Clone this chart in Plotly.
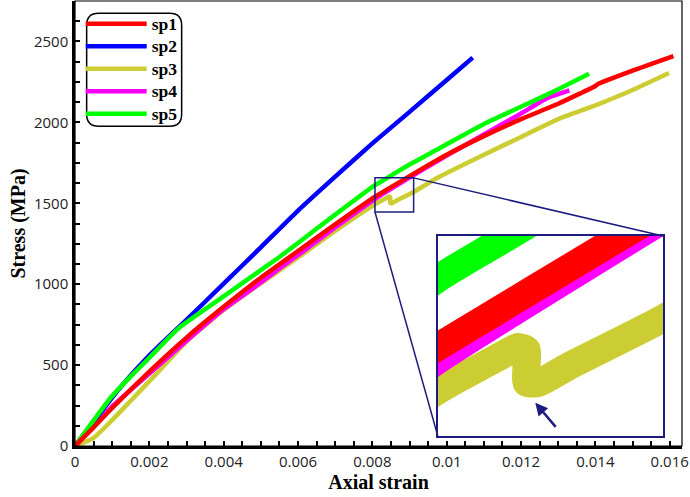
import plotly.graph_objects as go

# ---------------- data ----------------
sp1_x = [0, 0.0005, 0.001, 0.002, 0.003, 0.004, 0.005, 0.006, 0.007, 0.008, 0.00807, 0.00892,
         0.0095, 0.010, 0.011, 0.012, 0.013, 0.0140, 0.01408, 0.015, 0.0161]
sp1_y = [0, 115, 235, 460, 670, 860, 1040, 1205, 1370, 1530, 1540, 1657,
         1735, 1800, 1915, 2020, 2115, 2225, 2238, 2320, 2410]

sp2_x = [0, 0.0005, 0.00116, 0.002, 0.003, 0.004, 0.005, 0.006, 0.007, 0.008, 0.009, 0.010, 0.0107]
sp2_y = [0, 150, 346, 560, 780, 1003, 1228, 1455, 1665, 1870, 2065, 2262, 2400]

sp3_x = [0, 0.0005, 0.001, 0.0015, 0.00214, 0.003, 0.004, 0.005, 0.006, 0.007, 0.00807, 0.008365,
         0.00844, 0.00848, 0.00848, 0.008535, 0.00867,
         0.00911, 0.00979, 0.011, 0.012, 0.013, 0.014, 0.015, 0.01598]
sp3_y = [0, 50, 160, 280, 434, 645, 840, 1005, 1165, 1330, 1494, 1531,
         1540, 1537, 1502, 1502, 1519,
         1570, 1662, 1800, 1910, 2020, 2105, 2200, 2305]

sp4_x = [0, 0.0005, 0.001, 0.00214, 0.003, 0.004, 0.005, 0.0055, 0.006, 0.007, 0.00807, 0.00911,
         0.010, 0.011, 0.012, 0.0127, 0.0133]
sp4_y = [0, 125, 245, 475, 650, 845, 1010, 1097, 1180, 1350, 1526, 1674,
         1795, 1925, 2055, 2150, 2198]

sp5_x = [0, 0.00098, 0.0015, 0.002, 0.0028, 0.004, 0.005, 0.0055, 0.006, 0.007, 0.00807, 0.0084,
         0.009, 0.00979, 0.011, 0.0125, 0.013, 0.01383]
sp5_y = [0, 304, 430, 545, 730, 925, 1087, 1168, 1255, 1430, 1612, 1657,
         1740, 1838, 1990, 2150, 2205, 2300]

series_names = ["sp1", "sp2", "sp3", "sp4", "sp5"]
series_colors = ["#ff0000", "#0000ff", "#cccc33", "#ff00ff", "#00ff00"]
series_x = [sp1_x, sp2_x, sp3_x, sp4_x, sp5_x]
series_y = [sp1_y, sp2_y, sp3_y, sp4_y, sp5_y]
draw_order = [2, 3, 1, 4, 0]   # yellow, magenta, blue, green, red on top

x_range = [0, 0.01633]
y_range = [0, 2750]
zoom_x = [0.00807, 0.00911]
zoom_y = [1446, 1657]
inset_dom_x = [0.5977, 0.9688]
inset_dom_y = [0.0225, 0.4719]
arrow_head = (0.00852, 1481)
arrow_tail = (0.00862, 1454)

NAVY = "#1c1c80"

fig = go.Figure()
for i in draw_order:
    fig.add_trace(go.Scatter(
        x=series_x[i], y=series_y[i], mode="lines",
        name='<span style="font-size:17.5px">' + series_names[i] + "</span>",
        line=dict(color=series_colors[i], width=4.5, shape="spline", smoothing=0.5),
        legendrank=i + 1, xaxis="x", yaxis="y"))
for i in draw_order:
    fig.add_trace(go.Scatter(x=series_x[i], y=series_y[i], mode="lines", showlegend=False,
                             line=dict(color=series_colors[i], width=28,
                                       shape="spline", smoothing=0.5),
                             xaxis="x2", yaxis="y2", hoverinfo="skip"))

tickfont = dict(family="Open Sans", size=15, color="#222")
titlefont = dict(family="Liberation Serif", size=20, color="black", weight="bold")

fig.update_layout(
    width=690, height=497,
    margin=dict(l=75, r=6, t=1, b=51),
    paper_bgcolor="white", plot_bgcolor="white",
    showlegend=True,
    legend=dict(x=0.0094, y=0.9854, xanchor="left", yanchor="top",
                bgcolor="rgba(0,0,0,0)", borderwidth=0,
                font=dict(family="Liberation Serif", size=15, color="black", weight="bold"),
                itemwidth=61, tracegroupgap=0),
    xaxis=dict(range=x_range, domain=[0, 1], anchor="y",
               showline=True, linecolor="black", linewidth=2.5,
               ticks="inside", ticklen=5, tickwidth=1.5, tickcolor="black",
               dtick=0.002, tick0=0, ticklabeloverflow="allow",
               minor=dict(dtick=0.0005, ticks="inside", ticklen=5, tickwidth=1.5, tickcolor="black"),
               showgrid=False, zeroline=False, tickfont=tickfont,
               title=dict(text="Axial strain", font=titlefont, standoff=4)),
    yaxis=dict(range=y_range, domain=[0, 1], anchor="x",
               showline=True, linecolor="black", linewidth=2.5,
               ticks="inside", ticklen=5, tickwidth=1.5, tickcolor="black",
               dtick=500, tick0=0,
               minor=dict(dtick=125, ticks="inside", ticklen=5, tickwidth=1.5, tickcolor="black"),
               showgrid=False, zeroline=False, tickfont=tickfont, ticklabelstandoff=1,
               title=dict(text="Stress (MPa)", font=titlefont, standoff=3)),
    xaxis2=dict(range=zoom_x, domain=inset_dom_x, anchor="y2",
                showline=True, mirror=True, linecolor=NAVY, linewidth=1.5,
                showticklabels=False, ticks="", showgrid=False, zeroline=False),
    yaxis2=dict(range=zoom_y, domain=inset_dom_y, anchor="x2",
                showline=True, mirror=True, linecolor=NAVY, linewidth=1.5,
                showticklabels=False, ticks="", showgrid=False, zeroline=False),
)

def frac(v, rng):
    return (v - rng[0]) / (rng[1] - rng[0])

shapes = [
    dict(type="rect", xref="paper", yref="paper", x0=0, x1=1, y0=0, y1=1,
         line=dict(color="black", width=1.2), layer="above"),
    dict(type="rect", xref="x", yref="y", x0=zoom_x[0], x1=zoom_x[1], y0=zoom_y[0], y1=zoom_y[1],
         line=dict(color=NAVY, width=1.5)),
    dict(type="line", xref="paper", yref="paper",
         x0=frac(zoom_x[1], x_range), y0=frac(zoom_y[1], y_range),
         x1=inset_dom_x[1], y1=inset_dom_y[1], line=dict(color=NAVY, width=1.5)),
    dict(type="line", xref="paper", yref="paper",
         x0=frac(zoom_x[0], x_range), y0=frac(zoom_y[0], y_range),
         x1=inset_dom_x[0], y1=inset_dom_y[0], line=dict(color=NAVY, width=1.5)),
    dict(type="path", xref="paper", yref="paper", xsizemode="pixel", ysizemode="pixel",
         xanchor=0.0192, yanchor=0.9724,
         path="M 12,0 L 83,0 Q 95,0 95,-12 L 95,-101 Q 95,-113 83,-113 L 12,-113 "
              "Q 0,-113 0,-101 L 0,-12 Q 0,0 12,0 Z",
         line=dict(color="black", width=1.5), fillcolor="white", layer="below"),
]
fig.update_layout(shapes=shapes)

fig.add_annotation(xref="x2", yref="y2", axref="x2", ayref="y2",
                   x=arrow_head[0], y=arrow_head[1], ax=arrow_tail[0], ay=arrow_tail[1],
                   text="", showarrow=True, arrowhead=2, arrowsize=1, arrowwidth=2.5,
                   arrowcolor=NAVY)

fig.write_html("out.html", config={"displayModeBar": False},
               post_script="document.body.style.margin='0px';")
